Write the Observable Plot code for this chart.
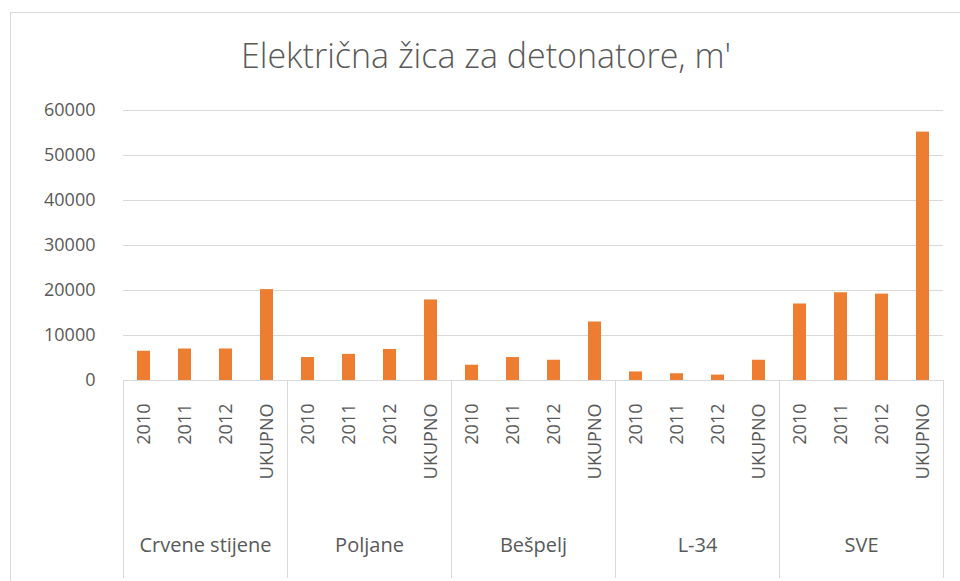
<!DOCTYPE html>
<html>
<head>
<meta charset="utf-8">
<script src="https://cdn.jsdelivr.net/npm/d3@7"></script>
<script src="https://cdn.jsdelivr.net/npm/@observablehq/plot@0.6"></script>
<style>
  body { margin: 0; background: #fff; }
  #wrap { position: relative; width: 960px; height: 581px; overflow: hidden; background: #fff; }
  #border { position: absolute; left: 10px; top: 12px; width: 980px; height: 600px;
            border-top: 1px solid #d9d9d9; border-left: 1px solid #d9d9d9; pointer-events: none; }
  #title { position: absolute; left: 10px; width: 952px; top: 38px; text-align: center;
           font-family: "Open Sans", sans-serif; font-weight: 300; font-size: 34px; line-height: 34px; color: #595959; }
  #chart { position: absolute; left: 0; top: 90px; }
</style>
</head>
<body>
<div id="wrap">
  <div id="border"></div>
  <div id="title">Električna žica za detonatore, m'</div>
  <div id="chart"></div>
</div>
<script>
const groups = ["Crvene stijene", "Poljane", "Bešpelj", "L-34", "SVE"];
const periods = ["2010", "2011", "2012", "UKUPNO"];
const crveneStijene = [6500, 7000, 7000, 20200];
const poljane = [5100, 5800, 6900, 17900];
const bespelj = [3400, 5100, 4500, 13000];
const l34 = [1900, 1500, 1200, 4500];
const sve = [17000, 19500, 19200, 55200];
const yTicks = [0, 10000, 20000, 30000, 40000, 50000, 60000];

const series = [crveneStijene, poljane, bespelj, l34, sve];
const data = [];
groups.forEach((g, gi) => periods.forEach((p, pi) => data.push({group: g, period: p, value: series[gi][pi]})));

const W = 960, H = 491, mL = 123, mR = 17;
const step = (W - mL - mR) / groups.length / periods.length;
const grid = "#d9d9d9";

const chart = Plot.plot({
  width: W,
  height: H,
  marginLeft: mL,
  marginRight: mR,
  marginTop: 20,
  marginBottom: 201,
  style: {fontFamily: "Open Sans, sans-serif", fontSize: "18px", color: "#595959", background: "transparent"},
  fx: {domain: groups, padding: 0},
  x: {domain: periods, paddingInner: 0.68, paddingOuter: 0.34},
  y: {domain: [0, 60000]},
  marks: [
    Plot.gridY(yTicks, {stroke: grid, strokeOpacity: 1}),
    Plot.ruleX(groups, {fx: d => d, x: () => "2010", y1: 0, y2: 0, dx: -step / 2, insetBottom: -198, stroke: grid, strokeOpacity: 1}),
    Plot.ruleX(["SVE"], {fx: d => d, x: () => "UKUPNO", y1: 0, y2: 0, dx: step / 2, insetBottom: -198, stroke: grid, strokeOpacity: 1}),
    Plot.barY(data, {fx: "group", x: "period", y: "value", fill: "#ED7D31"}),
    Plot.axisY(yTicks, {tickSize: 0, tickPadding: 28, tickFormat: d => String(d), label: null, fontSize: 18}),
    Plot.axisX({tickRotate: -90, tickSize: 0, tickPadding: 23, label: null, fontSize: 18}),
    Plot.axisFx({anchor: "bottom", tickSize: 0, tickPadding: 157, label: null, fontSize: 20})
  ]
});
document.getElementById("chart").appendChild(chart);
</script>
</body>
</html>
